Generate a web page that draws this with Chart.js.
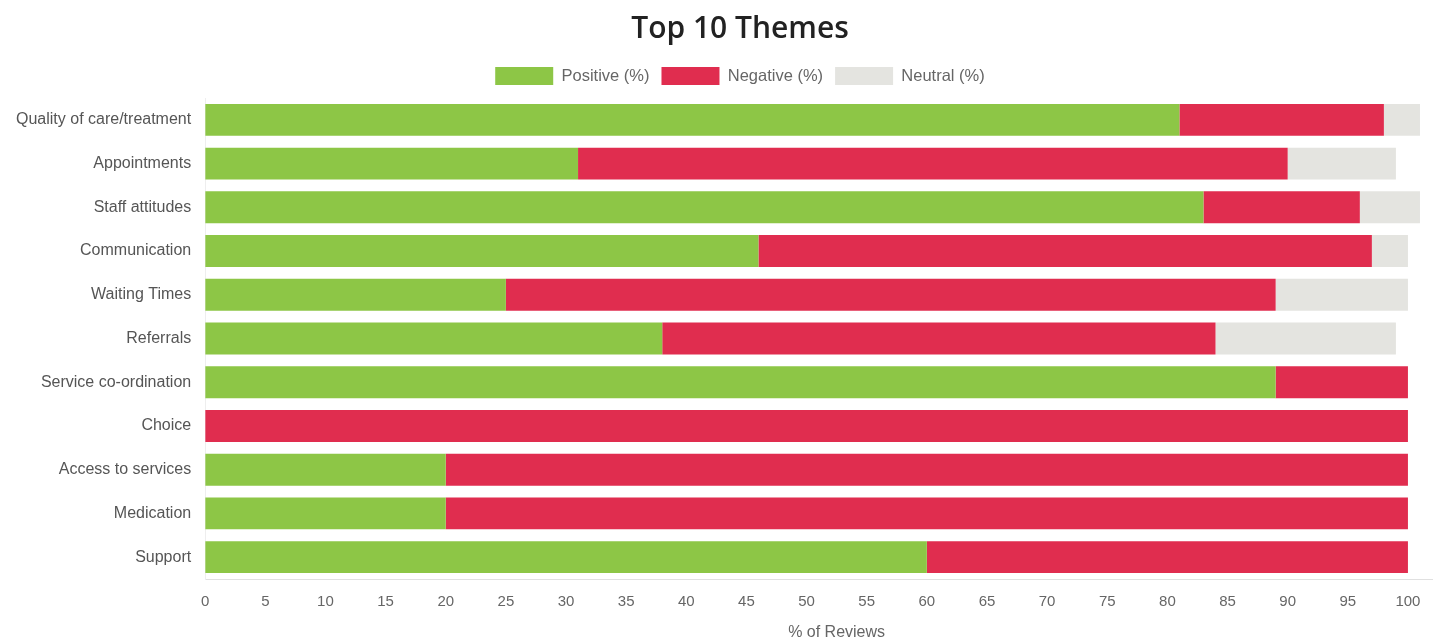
<!DOCTYPE html>
<html lang="en">
<head>
  <meta charset="UTF-8" />
  <title>Top 10 Themes</title>
  <script src="https://cdn.jsdelivr.net/npm/chart.js"></script>
  <style>
    html, body { margin: 0; padding: 0; background: #fff; }
    #wrap { width: 1443px; height: 641px; }
  </style>
</head>
<body>
  <div id="wrap"><canvas id="themesChart"></canvas></div>

  <script>
    const themes = [
      'Quality of care/treatment', 'Appointments', 'Staff attitudes', 'Communication',
      'Waiting Times', 'Referrals', 'Service co-ordination', 'Choice',
      'Access to services', 'Medication', 'Support'
    ];
    const positive = [81, 31, 83, 46, 25, 38, 89, 0, 20, 20, 60];
    const negative = [17, 59, 13, 51, 64, 46, 11, 100, 80, 80, 40];
    const neutral  = [3, 9, 5, 3, 11, 15, 0, 0, 0, 0, 0];
    const xTicks = [0, 5, 10, 15, 20, 25, 30, 35, 40, 45, 50, 55, 60, 65, 70, 75, 80, 85, 90, 95, 100];

    const labelFont = { family: 'Liberation Sans, Arial, sans-serif', size: 16 };
    const tickFont = { family: 'Liberation Sans, Arial, sans-serif', size: 15 };

    // a little more room under the legend, title + legend + axis title nudged right
    const headerTweak = {
      id: 'headerTweak',
      beforeInit(chart) {
        const fit = chart.legend.fit;
        chart.legend.fit = function () {
          fit.bind(chart.legend)();
          this.height += 3;
        };
      },
      afterLayout(chart) {
        [chart.titleBlock, chart.legend].forEach(b => {
          if (!b) return;
          b.left += 19;
          b.right += 19;
        });
        const xs = chart.scales.x;
        if (xs && !xs._shifted) {
          const orig = xs.drawTitle.bind(xs);
          xs.drawTitle = function () {
            this.ctx.save();
            this.ctx.translate(18, 0);
            orig();
            this.ctx.restore();
          };
          xs._shifted = true;
        }
      }
    };

    new Chart(document.getElementById('themesChart'), {
      type: 'bar',
      data: {
        labels: themes,
        datasets: [
          { label: 'Positive (%)', data: positive, backgroundColor: '#8dc646' },
          { label: 'Negative (%)', data: negative, backgroundColor: '#e02d4f' },
          { label: 'Neutral (%)', data: neutral, backgroundColor: '#e4e4e0' }
        ]
      },
      options: {
        indexAxis: 'y',
        responsive: true,
        maintainAspectRatio: false,
        animation: false,
        layout: { padding: { left: 10, right: 11, top: 0, bottom: 0 } },
        datasets: {
          bar: { categoryPercentage: 1, barPercentage: 0.73, borderWidth: 0 }
        },
        plugins: {
          title: {
            display: true,
            text: 'Top 10 Themes',
            color: '#222',
            font: { family: 'Open Sans, sans-serif', size: 30, weight: '600' },
            padding: { top: 11, bottom: 8 }
          },
          legend: {
            labels: {
              boxWidth: 58,
              boxHeight: 18,
              color: '#666',
              font: { family: 'Liberation Sans, Arial, sans-serif', size: 16.5 },
              padding: 12
            }
          },
          tooltip: { enabled: false }
        },
        scales: {
          x: {
            stacked: true,
            min: 0,
            max: 102,
            afterBuildTicks: (axis) => { axis.ticks = xTicks.map(v => ({ value: v })); },
            grid: { display: false },
            border: { display: true, color: '#e0e0e0' },
            ticks: { color: '#666', font: tickFont, padding: 6, maxRotation: 0 },
            title: {
              display: true,
              text: '% of Reviews',
              color: '#666',
              font: { family: 'Liberation Sans, Arial, sans-serif', size: 16, lineHeight: 1 },
              padding: { top: 8, bottom: 0 }
            }
          },
          y: {
            stacked: true,
            grid: { display: false },
            border: { display: true, color: '#eeeeee' },
            ticks: { color: '#555', font: labelFont, padding: 6 }
          }
        }
      },
      plugins: [headerTweak]
    });
  </script>
</body>
</html>
